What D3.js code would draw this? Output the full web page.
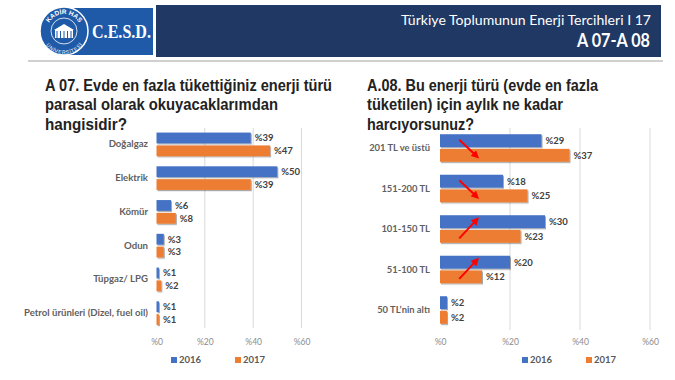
<!DOCTYPE html>
<html><head><meta charset="utf-8">
<script src="https://cdn.jsdelivr.net/npm/d3@7"></script>
<style>
html,body{margin:0;padding:0;background:#fff;}
svg{display:block;}
</style></head>
<body>
<svg id="c" width="675" height="380"></svg>
<script>
// ---- data ----
const years = ["2016", "2017"];
const catsA07 = ["Doğalgaz", "Elektrik", "Kömür", "Odun", "Tüpgaz/ LPG", "Petrol ürünleri (Dizel, fuel oil)"];
const a07v2016 = [39, 50, 6, 3, 1, 1];
const a07v2017 = [47, 39, 8, 3, 2, 1];
const catsA08 = ["201 TL ve üstü", "151-200 TL", "101-150 TL", "51-100 TL", "50 TL’nin altı"];
const a08v2016 = [29, 18, 30, 20, 2];
const a08v2017 = [37, 25, 23, 12, 2];
const tickValues = [0, 20, 40, 60];
const tickLabels = ["%0", "%20", "%40", "%60"];
const arrowCats = ["201 TL ve üstü", "151-200 TL", "101-150 TL", "51-100 TL"];
const arrowDirs = ["down", "down", "up", "up"];
const titleA07 = ["A 07. Evde en fazla tükettiğiniz enerji türü", "parasal olarak okuyacaklarımdan", "hangisidir?"];
const titleA08 = ["A.08. Bu enerji türü (evde en fazla", "tüketilen) için aylık ne kadar", "harcıyorsunuz?"];
const headerLine1 = "Türkiye Toplumunun Enerji Tercihleri  I 17";
const headerLine2 = "A 07-A 08";

const colors = {"2016": "#4472C4", "2017": "#ED7D31"};
const svg = d3.select("#c");

// shadow filter
const defs = svg.append("defs");
const f = defs.append("filter").attr("id", "sh").attr("x", "-10%").attr("y", "-30%").attr("width", "130%").attr("height", "180%");
f.append("feDropShadow").attr("dx", 1).attr("dy", 1.2).attr("stdDeviation", 0.7).attr("flood-color", "#000").attr("flood-opacity", 0.35);
defs.append("marker").attr("id", "arr").attr("viewBox", "0 0 10 10").attr("refX", 6).attr("refY", 5)
  .attr("markerWidth", 4).attr("markerHeight", 4).attr("orient", "auto")
  .append("path").attr("d", "M0,0 L10,5 L0,10 z").attr("fill", "#FF0000");
defs.append("path").attr("id", "arcTop").attr("d", "M-17,0 A17,17 0 0 1 17,0");
defs.append("path").attr("id", "arcBot").attr("d", "M-19,0 A19,19 0 0 0 19,0");

// ---- header ----
svg.append("line").attr("x1", 28).attr("x2", 663).attr("y1", 61).attr("y2", 61).attr("stroke", "#d0d0d0").attr("stroke-width", 2);
svg.append("rect").attr("x", 64).attr("y", 8).attr("width", 89).attr("height", 47).attr("fill", "#1E5AA8");
const logo = svg.append("g").attr("transform", "translate(64,31)");
logo.append("circle").attr("r", 24).attr("fill", "#1E5AA8").attr("stroke", "#fff").attr("stroke-width", 1.5);
logo.append("circle").attr("r", 13).attr("fill", "none").attr("stroke", "#fff").attr("stroke-width", 0.8);
logo.append("rect").attr("x", -9).attr("y", -1).attr("width", 18).attr("height", 8).attr("fill", "#fff");
logo.append("path").attr("d", "M-10,-1 L0,-7 L10,-1 Z").attr("fill", "#fff");
for (let i = -7; i <= 7; i += 3.5) logo.append("line").attr("x1", i).attr("x2", i).attr("y1", 0).attr("y2", 7).attr("stroke", "#1E5AA8").attr("stroke-width", 1);
logo.append("text").attr("fill", "#fff").attr("font-family", "Liberation Sans, Arial").attr("font-size", 6.5).attr("font-weight", "bold")
  .append("textPath").attr("href", "#arcTop").attr("startOffset", "50%").attr("text-anchor", "middle").text("KADİR HAS");
logo.append("text").attr("fill", "#fff").attr("font-family", "Liberation Sans, Arial").attr("font-size", 5).attr("dy", 4)
  .append("textPath").attr("href", "#arcBot").attr("startOffset", "50%").attr("text-anchor", "middle").text("ÜNİVERSİTESİ");
svg.append("text").attr("x", 92).attr("y", 38).attr("fill", "#fff").attr("font-family", "Liberation Serif, DejaVu Serif, serif")
  .attr("font-weight", "bold").attr("font-size", 19).attr("textLength", 59).attr("lengthAdjust", "spacingAndGlyphs").text("C.E.S.D.");
svg.append("rect").attr("x", 156).attr("y", 5).attr("width", 505).attr("height", 52).attr("fill", "#1F3864");
svg.append("text").attr("x", 651).attr("y", 25).attr("text-anchor", "end").attr("fill", "#fff").attr("font-family", "Lato, Open Sans, sans-serif")
  .attr("font-size", 13).attr("textLength", 250).attr("lengthAdjust", "spacingAndGlyphs").text(headerLine1);
svg.append("text").attr("x", 650).attr("y", 47).attr("text-anchor", "end").attr("fill", "#fff").attr("font-family", "Lato, Open Sans, sans-serif")
  .attr("font-weight", "bold").attr("font-size", 19).attr("textLength", 73).attr("lengthAdjust", "spacingAndGlyphs").text(headerLine2);

// ---- chart builder ----
function chart(opt) {
  const g = svg.append("g");
  const tw = opt.titleWidths;
  opt.title.forEach((t, i) => {
    g.append("text").attr("x", opt.titleX).attr("y", 90.5 + i * 19.7).attr("fill", "#222")
      .attr("font-family", "Liberation Sans, Arial, sans-serif").attr("font-weight", "bold").attr("font-size", 17)
      .attr("textLength", tw[i]).attr("lengthAdjust", "spacingAndGlyphs").text(t);
  });
  const x = d3.scaleLinear().domain([0, 60]).range(opt.xRange);
  const y = d3.scaleBand().domain(opt.cats).range([opt.yTop, opt.yBot]).paddingInner(opt.padIn).paddingOuter(opt.padIn / 2);
  const ys = d3.scaleBand().domain(years).range([0, y.bandwidth()]).paddingInner(opt.subPad);
  g.append("g").selectAll("line").data(tickValues.slice(1)).join("line")
    .attr("x1", d => x(d)).attr("x2", d => x(d)).attr("y1", opt.gridTop).attr("y2", opt.gridBot)
    .attr("stroke", "#d9d9d9").attr("stroke-width", 1);
  const ax = d3.axisBottom(x).tickValues(tickValues).tickFormat((d, i) => tickLabels[i]).tickSize(0);
  const axg = g.append("g").attr("transform", `translate(0,${opt.axisY})`).call(ax);
  axg.select(".domain").remove();
  axg.selectAll("text").attr("fill", "#8c8c8c").attr("font-family", "Lato, sans-serif").attr("font-size", 8.5).attr("dy", "0.32em").attr("y", 0);
  const ya = d3.axisLeft(y).tickSize(0).tickPadding(0);
  const yg = g.append("g").attr("transform", `translate(${opt.labelX},0)`).call(ya);
  yg.select(".domain").remove();
  yg.selectAll("text").attr("fill", "#5f5f5f").attr("font-family", "Lato, sans-serif").attr("font-weight", "bold").attr("font-size", opt.catFont);
  const rows = [];
  opt.cats.forEach((c, i) => {
    rows.push({cat: c, year: "2016", v: opt.v2016[i]});
    rows.push({cat: c, year: "2017", v: opt.v2017[i]});
  });
  g.append("g").selectAll("rect").data(rows).join("rect")
    .attr("x", x(0)).attr("y", d => y(d.cat) + ys(d.year)).attr("width", d => x(d.v) - x(0)).attr("height", ys.bandwidth())
    .attr("fill", d => colors[d.year]).attr("filter", "url(#sh)");
  g.append("g").selectAll("text").data(rows).join("text")
    .attr("x", d => x(d.v) + 4).attr("y", d => y(d.cat) + ys(d.year) + ys.bandwidth() / 2).attr("dy", "0.35em")
    .attr("fill", "#404040").attr("font-family", "Lato, sans-serif").attr("font-weight", "bold").attr("font-size", opt.valFont)
    .text(d => "%" + d.v);
  const lg = g.append("g");
  years.forEach((yr, i) => {
    const lx = opt.legendX[i];
    lg.append("rect").attr("x", lx).attr("y", 357).attr("width", 6).attr("height", 6).attr("fill", colors[yr]);
    lg.append("text").attr("x", lx + 8).attr("y", 360).attr("dy", "0.35em").attr("fill", "#595959")
      .attr("font-family", "Lato, sans-serif").attr("font-weight", "bold").attr("font-size", 9.5).text(yr);
  });
  return {x, y, ys, g};
}

chart({
  title: titleA07, titleX: 45, titleWidths: [287, 233, 82],
  cats: catsA07, v2016: a07v2016, v2017: a07v2017,
  xRange: [156.5, 301.5], yTop: 127.5, yBot: 330, padIn: 0.3, subPad: 0.16,
  gridTop: 128, gridBot: 328, axisY: 342, labelX: 148, catFont: 9.6, valFont: 9.5,
  legendX: [171, 235]
});

const R = chart({
  title: titleA08, titleX: 367, titleWidths: [231, 196, 107],
  cats: catsA08, v2016: a08v2016, v2017: a08v2017,
  xRange: [440, 650], yTop: 127.75, yBot: 330.25, padIn: 0.32, subPad: 0.12,
  gridTop: 128, gridBot: 330, axisY: 342, labelX: 430, catFont: 9.4, valFont: 9.5,
  legendX: [522, 586]
});

// red arrows (annotation of change direction)
arrowCats.forEach((c, i) => {
  const yTopBar = R.y(c) + R.ys("2016") + R.ys.bandwidth() / 2;
  const yBotBar = R.y(c) + R.ys("2017") + R.ys.bandwidth() / 2;
  const down = arrowDirs[i] === "down";
  const y1 = down ? yTopBar - 1 : yBotBar + 2;
  const y2 = down ? yBotBar + 1 : yTopBar - 2;
  svg.append("line").attr("x1", R.x(5.5)).attr("y1", y1).attr("x2", R.x(10.5)).attr("y2", y2)
    .attr("stroke", "#FF0000").attr("stroke-width", 2).attr("marker-end", "url(#arr)");
});
</script>
</body></html>
